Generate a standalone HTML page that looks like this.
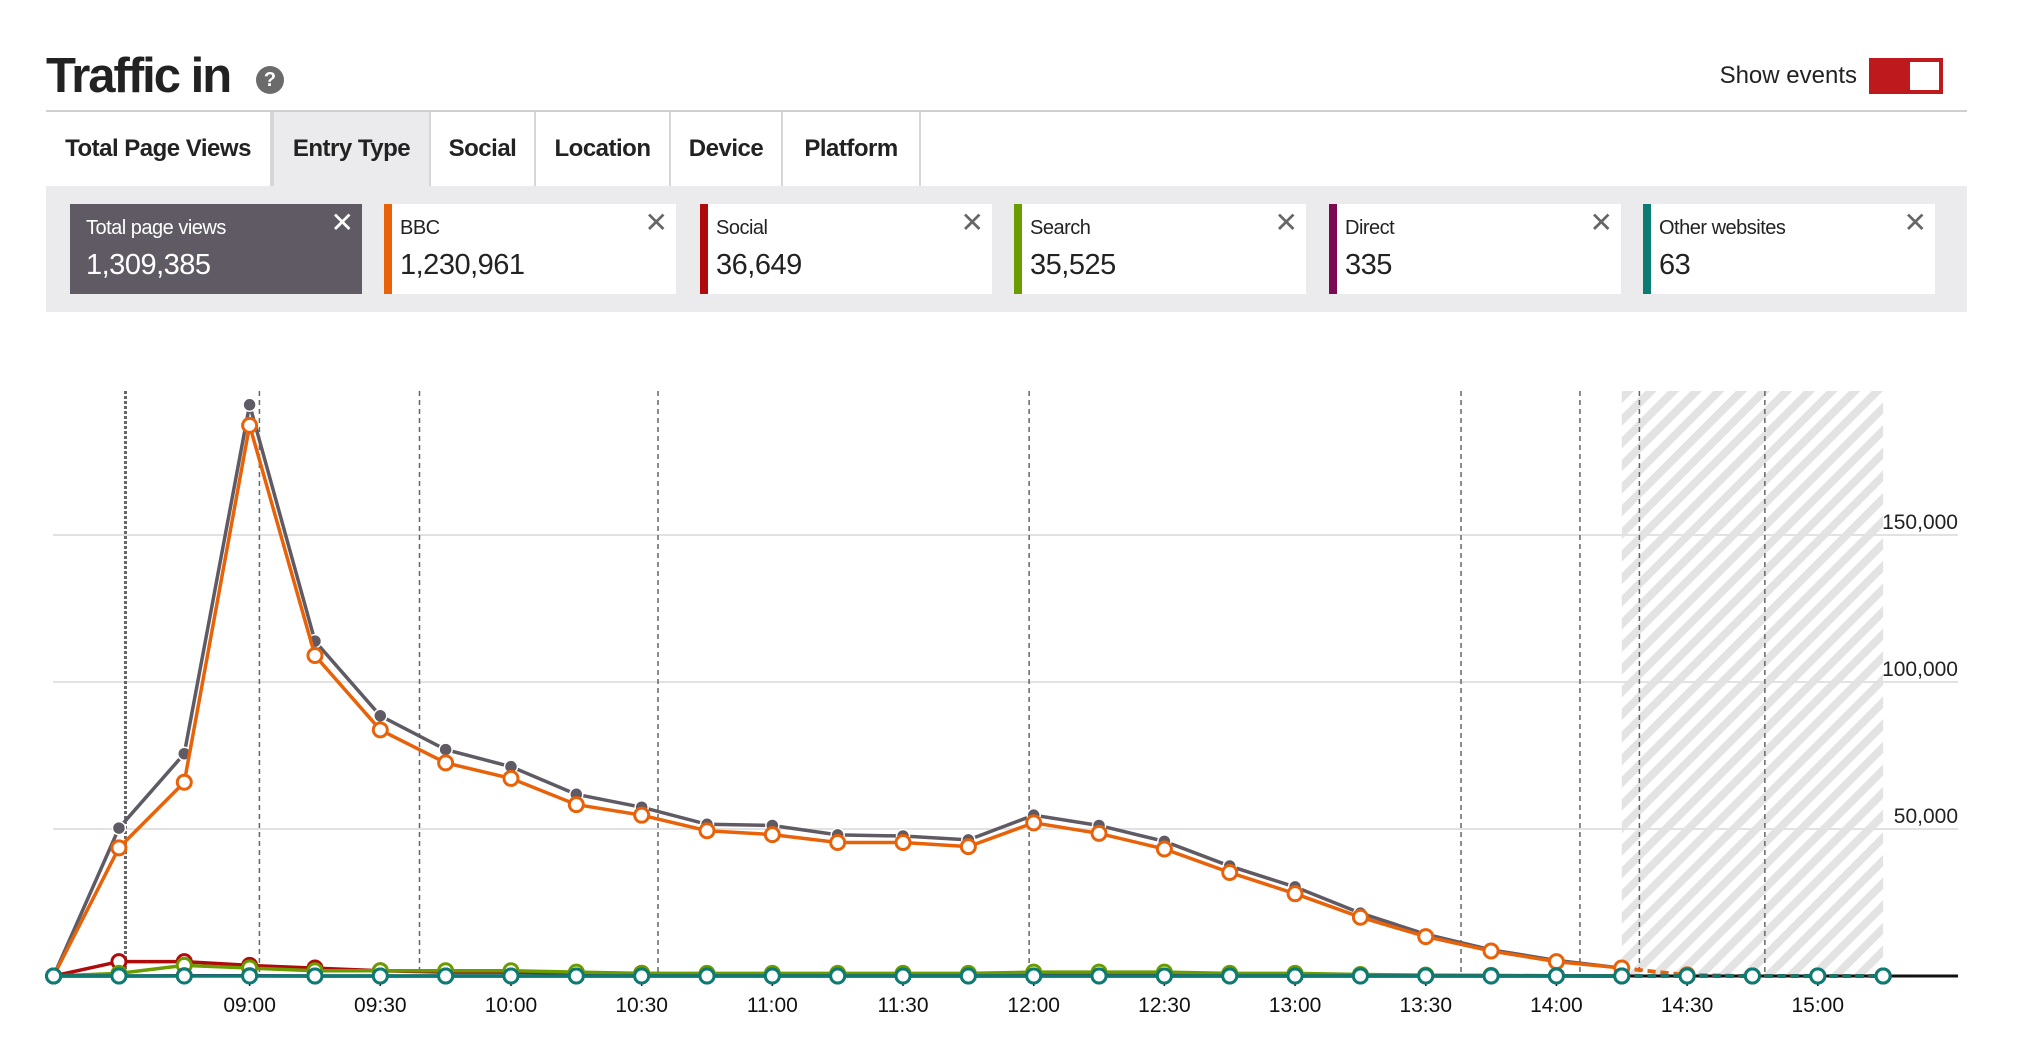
<!DOCTYPE html>
<html><head><meta charset="utf-8">
<style>
body{margin:0;width:2044px;height:1062px;background:#fff;font-family:"Liberation Sans",sans-serif;color:#222;position:relative;overflow:hidden}
.abs{position:absolute}
.title{left:46px;top:48px;font-size:49px;font-weight:bold;letter-spacing:-2px;color:#222}
.help{left:256px;top:66px;width:28px;height:28px;border-radius:50%;background:#6b6b6b;color:#fff;font-weight:bold;font-size:20px;text-align:center;line-height:28px}
.show{left:1700px;top:62px;width:157px;text-align:right;font-size:24px;color:#222}
.toggle{left:1869px;top:58px;width:70px;height:32px;background:#be1a1d;border:2px solid #be1a1d}
.toggle div{position:absolute;right:2px;top:2px;width:29px;height:28px;background:#fff}
.rule{left:46px;top:110px;width:1921px;height:2px;background:#cfcfcf}
.tab{top:112px;height:74px;font-size:24px;font-weight:bold;line-height:74px;text-align:center;border-right:2px solid #d6d6d6;letter-spacing:-0.5px;box-sizing:border-box}
.panel{left:46px;top:186px;width:1921px;height:126px;background:#ebebed}
.card{top:204px;width:292px;height:90px;background:#fff;box-sizing:border-box}
.card .bar{position:absolute;left:0;top:0;width:8px;height:90px}
.card .lab{position:absolute;left:16px;top:13px;font-size:20px;letter-spacing:-0.5px}
.card .val{position:absolute;left:16px;top:45px;font-size:29px;letter-spacing:-0.5px}
.card .x{position:absolute;right:8px;top:2px;font-size:28px;color:#666}
</style></head><body>
<div class="abs title">Traffic in</div>
<div class="abs help">?</div>
<div class="abs show">Show events</div>
<div class="abs toggle"><div></div></div>
<div class="abs rule"></div>
<div class="abs tab" style="left:46px;width:226px">Total Page Views</div>
<div class="abs tab" style="left:272px;width:159px;background:#ebebed;border-left:2px solid #d6d6d6">Entry Type</div>
<div class="abs tab" style="left:431px;width:105px">Social</div>
<div class="abs tab" style="left:536px;width:135px">Location</div>
<div class="abs tab" style="left:671px;width:112px">Device</div>
<div class="abs tab" style="left:783px;width:138px">Platform</div>
<div class="abs panel"></div>
<div class="abs card" style="left:70px;background:#5f5a63;color:#fff"><div class="lab">Total page views</div><div class="val">1,309,385</div><div class="x" style="color:#fff">✕</div></div>
<div class="abs card" style="left:384px"><div class="bar" style="background:#e86209"></div><div class="lab">BBC</div><div class="val">1,230,961</div><div class="x">✕</div></div>
<div class="abs card" style="left:700px"><div class="bar" style="background:#b00a0a"></div><div class="lab">Social</div><div class="val">36,649</div><div class="x">✕</div></div>
<div class="abs card" style="left:1014px"><div class="bar" style="background:#6a9c00"></div><div class="lab">Search</div><div class="val">35,525</div><div class="x">✕</div></div>
<div class="abs card" style="left:1329px"><div class="bar" style="background:#7c0a52"></div><div class="lab">Direct</div><div class="val">335</div><div class="x">✕</div></div>
<div class="abs card" style="left:1643px"><div class="bar" style="background:#0a7c74"></div><div class="lab">Other websites</div><div class="val">63</div><div class="x">✕</div></div>

<svg class="abs" style="left:0;top:0" width="2044" height="1062" id="chart">
<defs><pattern id="hatch" patternUnits="userSpaceOnUse" width="16" height="16" patternTransform="rotate(-45)"><rect width="16" height="16" fill="#fff"/><rect width="16" height="8" fill="#e3e3e3"/></pattern></defs>
</svg>
<script>
const times=["08:15","08:30","08:45","09:00","09:15","09:30","09:45","10:00","10:15","10:30","10:45","11:00","11:15","11:30","11:45","12:00","12:15","12:30","12:45","13:00","13:15","13:30","13:45","14:00","14:15","14:30","14:45","15:00","15:15"];
const total=[0,50300,75600,194300,113900,88500,77000,71200,61800,57400,51600,51200,48000,47600,46300,54700,51200,45800,37400,30300,21400,14200,8900,5300,2700,200,0,0,0];
const bbc=[0,43600,65900,187300,109000,83700,72500,67200,58300,54700,49400,48100,45400,45400,44000,52100,48500,43200,35200,28000,20000,13400,8500,4900,2700,400,0,0,0];
const social=[0,4900,4900,3600,2700,1800,1300,1300,900,900,600,600,500,500,400,500,500,400,300,300,200,200,100,100,0,0,0,0,0];
const search=[0,900,3600,2700,1800,1800,1800,1800,1300,900,900,900,900,900,900,1300,1300,1300,900,900,500,300,200,100,0,0,0,0,0];
const direct=[0,0,100,100,0,0,0,0,0,0,0,0,0,0,0,0,0,0,0,0,0,0,0,0,0,0,0,0,0];
const other=[0,0,0,0,0,0,0,0,0,0,0,0,0,0,0,0,0,0,0,0,0,0,0,0,0,0,0,0,0];
const yTicks=[50000,100000,150000];
const yTickLabels=["50,000","100,000","150,000"];
const xTickIdx=[3,5,7,9,11,13,15,17,19,21,23,25,27];
const eventIdx=[1.1,3.15,5.6,9.25,14.93,21.54,23.36,24.27,26.19];
const futureStart=24;
const svg=document.getElementById('chart');
const NS='http://www.w3.org/2000/svg';
const TOP=391, BASE=976;
const X=i=>53.6+65.34*i;
const Y=v=>BASE-v*147/50000;
function mk(t,a){const e=document.createElementNS(NS,t);for(const k in a)e.setAttribute(k,a[k]);svg.appendChild(e);return e;}
let h=mk('rect',{x:X(futureStart),y:TOP,width:X(28)-X(futureStart),height:BASE-TOP,fill:'url(#hatch)'});


yTicks.forEach((v,k)=>{
 let g=mk('line',{x1:53,x2:1958,y1:Y(v),y2:Y(v),stroke:'#e2e2e2','stroke-width':2});
 
 
 let t=mk('text',{x:1958,y:Y(v)-6,'text-anchor':'end','font-size':21,fill:'#222','font-family':'Liberation Sans, sans-serif'});
 t.textContent=yTickLabels[k];
 
 
});
eventIdx.forEach((e,k)=>{
 let l=mk('line',{x1:X(e),x2:X(e),y1:TOP,y2:BASE,stroke:'#666','stroke-width':k==0?3:1.5,'stroke-dasharray':k==0?'3,2':'5,4'});
 
 
});
let ax=mk('line',{x1:53,x2:1958,y1:BASE,y2:BASE,stroke:'#111','stroke-width':3});


xTickIdx.forEach(i=>{
 let tk=mk('line',{x1:X(i),x2:X(i),y1:BASE,y2:BASE+10,stroke:'#111','stroke-width':1.5});
 
 
 let t=mk('text',{x:X(i),y:BASE+36,'text-anchor':'middle','font-size':21,fill:'#111','font-family':'Liberation Sans, sans-serif'});
 t.textContent=times[i];
 
 
});
function series(vals,color,name,filled){
 const solid=vals.slice(0,futureStart+1).map((v,i)=>X(i)+','+Y(v)).join(' ');
 const dash=vals.slice(futureStart).map((v,i)=>X(i+futureStart)+','+Y(v)).join(' ');
 let p=mk('polyline',{points:solid,fill:'none',stroke:color,'stroke-width':3.5});
 
 
 let d=mk('polyline',{points:dash,fill:'none',stroke:color,'stroke-width':3.5,'stroke-dasharray':'8,5'});
 
 
 vals.forEach((v,i)=>{
  let c=mk('circle',{cx:X(i),cy:Y(v),r:filled?6.5:7,fill:filled?color:'#fff',stroke:filled?'#fff':color,'stroke-width':filled?1.5:3});
  
  
 });
}
series(total,'#5f5a63','total',true);
series(bbc,'#e86209','bbc',false);
series(social,'#b00a0a','social',false);
series(search,'#6a9c00','search',false);
series(direct,'#7c0a52','direct',false);
series(other,'#0a7c74','other-websites',false);
</script>
</body></html>
